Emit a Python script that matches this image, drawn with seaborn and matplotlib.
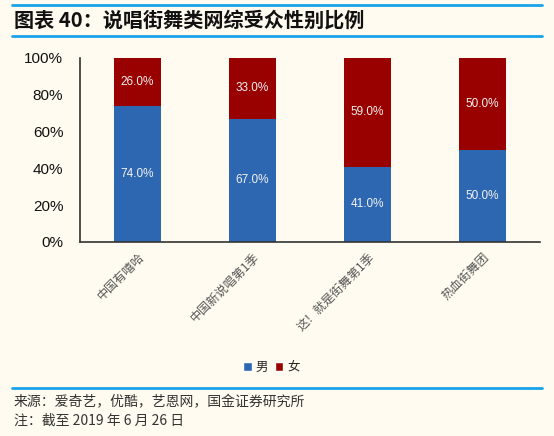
import matplotlib
matplotlib.use("Agg")
import matplotlib.pyplot as plt
import matplotlib.transforms as mtransforms
import pandas as pd
import seaborn as sns
from matplotlib.lines import Line2D
from matplotlib.patches import Patch

shows = ["中国有嘻哈", "中国新说唱第1季", "这！就是街舞第1季", "热血街舞团"]
male = [74.0, 67.0, 41.0, 50.0]
female = [26.0, 33.0, 59.0, 50.0]
yticks = [0, 20, 40, 60, 80, 100]

BG = "#FFFBF0"
BLUE = "#2E67B1"
RED = "#990000"
LINE = "#1AA3E8"

sns.set_theme(style="white")
plt.rcParams["font.family"] = ["Liberation Sans", "Noto Sans CJK SC", "DejaVu Sans"]

df = pd.DataFrame({"show": shows, "male": male, "female": female})
df["total"] = df["male"] + df["female"]

fig = plt.figure(figsize=(5.54, 4.36), dpi=100, facecolor=BG)
ax = fig.add_axes([0.1444, 0.445, 0.8303, 0.422])
ax.set_facecolor(BG)

sns.barplot(data=df, x="show", y="total", color=RED, width=0.41, saturation=1,
            linewidth=0, ax=ax)
sns.barplot(data=df, x="show", y="male", color=BLUE, width=0.41, saturation=1,
            linewidth=0, ax=ax)

for i, (m, f) in enumerate(zip(male, female)):
    ax.text(i, m / 2, f"{m:.1f}%", ha="center", va="center", color="#F2F2F2", fontsize=8.5)
    ax.text(i, m + f / 2, f"{f:.1f}%", ha="center", va="center", color="#F2F2F2", fontsize=8.5)

ax.set_ylim(0, 100)
ax.set_xlim(-0.5, 3.5)
ax.set_yticks(yticks)
ax.set_yticklabels([f"{t}%" for t in yticks], fontsize=11, color="#111111")
ax.set_xticks(range(len(shows)))
ax.set_xticklabels(shows, rotation=45, ha="right", rotation_mode="anchor",
                   fontsize=8.7, color="#555555", family=["Noto Sans CJK SC"])
shift = mtransforms.ScaledTranslation(-0.10, -0.05, fig.dpi_scale_trans)
for lbl in ax.get_xticklabels():
    lbl.set_transform(lbl.get_transform() + shift)
ax.tick_params(axis="x", length=0, pad=6)
ax.tick_params(axis="y", length=0, pad=12)
ax.set_xlabel("")
ax.set_ylabel("")
for s in ["top", "right"]:
    ax.spines[s].set_visible(False)
for s in ["left", "bottom"]:
    ax.spines[s].set_color("#333333")
    ax.spines[s].set_linewidth(1.2)

handles = [Patch(facecolor=BLUE, label="男"), Patch(facecolor=RED, label="女")]
fig.legend(handles=handles, loc="center", bbox_to_anchor=(0.49, 0.158), ncol=2,
           frameon=False, handlelength=0.7, handleheight=0.7,
           handletextpad=0.3, columnspacing=0.5,
           prop={"family": ["Noto Sans CJK SC"], "size": 9})

# header and footer rules
for y in [0.989, 0.917, 0.110]:
    fig.add_artist(Line2D([0.022, 0.978], [y, y], color=LINE, lw=2))

fig.text(0.025, 0.953, "图表 40：说唱街舞类网综受众性别比例", fontsize=14.5, fontweight="bold",
         style="italic", color="#111111", va="center", family=["Noto Sans CJK SC"])
fig.text(0.025, 0.078, "来源：爱奇艺，优酷，艺恩网，国金证券研究所", fontsize=10,
         color="#333333", va="center", family=["Noto Sans CJK SC"])
fig.text(0.025, 0.034, "注：截至 2019 年 6 月 26 日", fontsize=10,
         color="#333333", va="center", family=["Noto Sans CJK SC", "Liberation Sans"])

fig.savefig("out.png", dpi=100, facecolor=BG)
